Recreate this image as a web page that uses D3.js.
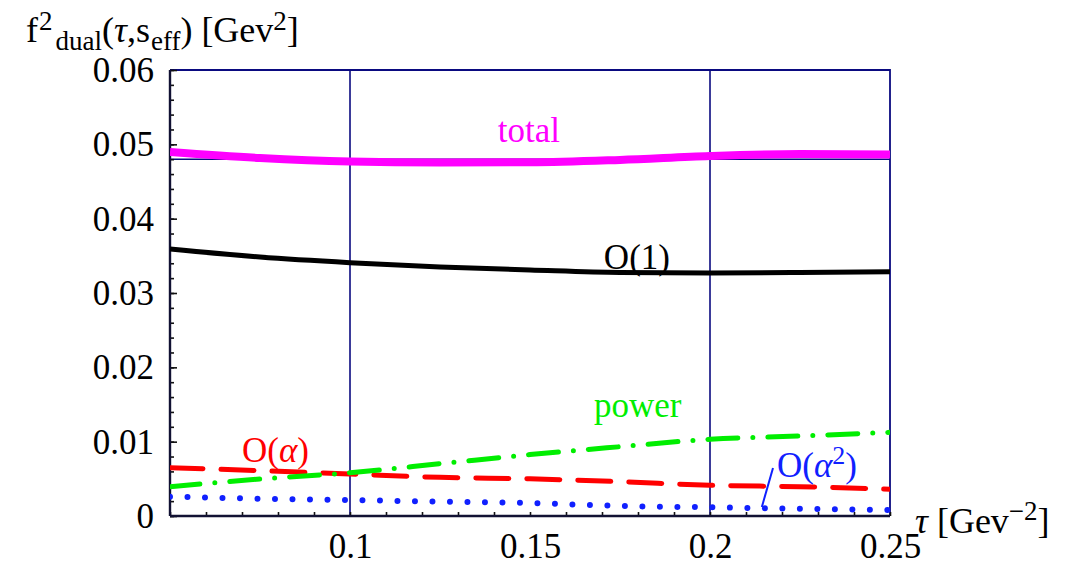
<!DOCTYPE html>
<html>
<head>
<meta charset="utf-8">
<script src="https://cdn.jsdelivr.net/npm/d3@7"></script>
<style>
  html, body { margin: 0; padding: 0; background: #fff; }
  svg { display: block; }
</style>
</head>
<body>
<svg id="chart" width="1067" height="562"></svg>
<script>
// tau grid [GeV^-2]
const tau = [0.05, 0.075, 0.1, 0.125, 0.15, 0.175, 0.2, 0.225, 0.25];

// contributions to f^2_dual(tau, s_eff) [GeV^2]
const total  = [0.04897, 0.04816, 0.04769, 0.04756, 0.04758, 0.04790, 0.04843, 0.04870, 0.04863];
const orderOne   = [0.03592, 0.03484, 0.03408, 0.03350, 0.03310, 0.03276, 0.03270, 0.03276, 0.03287];
const orderAlpha = [0.00650, 0.00610, 0.00565, 0.00520, 0.00500, 0.00462, 0.00413, 0.00394, 0.00359];
const orderAlpha2 = [0.00260, 0.00233, 0.00215, 0.00193, 0.00175, 0.00135, 0.00117, 0.00098, 0.00081];
const power  = [0.00394, 0.00498, 0.00583, 0.00703, 0.00826, 0.00932, 0.01032, 0.01076, 0.01126];

// axis ticks
const yMajorTicks = [0, 0.01, 0.02, 0.03, 0.04, 0.05, 0.06];
const yTickLabels = ["0", "0.01", "0.02", "0.03", "0.04", "0.05", "0.06"];
const xLabelTicks = [0.1, 0.15, 0.2, 0.25];
const xTickLabels = ["0.1", "0.15", "0.2", "0.25"];
const xGrid = [0.1, 0.2];
const yGrid = [0.048];

const FONT = "Liberation Serif";
const svg = d3.select("#chart");
const W = 1067, H = 562;
const m = { left: 170, right: 177, top: 70, bottom: 46 };

const x = d3.scaleLinear().domain([0.05, 0.25]).range([m.left, W - m.right]);
const y = d3.scaleLinear().domain([0, 0.06]).range([H - m.bottom, m.top]);

const navy = "#0a0a80";
const FS = 35;
const FS_TITLE = 36;
const FS_SMALL = 26;
const FS_TITLE_SMALL = 27;

svg.append("rect").attr("width", W).attr("height", H).attr("fill", "#fff");

svg.append("defs").append("clipPath").attr("id", "plotClip")
  .append("rect")
  .attr("x", x(0.05)).attr("y", y(0.06))
  .attr("width", x(0.25) - x(0.05)).attr("height", y(0) - y(0.06));

// grid lines
svg.append("g").selectAll("line").data(xGrid).join("line")
  .attr("x1", d => x(d)).attr("x2", d => x(d))
  .attr("y1", y(0.06)).attr("y2", y(0))
  .attr("stroke", navy).attr("stroke-width", 1.6);
svg.append("g").selectAll("line").data(yGrid).join("line")
  .attr("x1", x(0.05)).attr("x2", x(0.25))
  .attr("y1", d => y(d)).attr("y2", d => y(d))
  .attr("stroke", navy).attr("stroke-width", 1.6);

// frame (top and right)
svg.append("path")
  .attr("d", `M${x(0.05)},${y(0.06)}H${x(0.25)}V${y(0)}`)
  .attr("fill", "none").attr("stroke", navy).attr("stroke-width", 1.8);

// left axis: minor and major ticks pointing inward
const yMinor = d3.range(0, 0.0601, 0.002);
const yAxisMinor = d3.axisRight(y).tickValues(yMinor).tickSize(4).tickFormat("");
const gy = svg.append("g").attr("transform", `translate(${x(0.05)},0)`).call(yAxisMinor);
gy.select(".domain").remove();
gy.selectAll(".tick line").attr("stroke", "#111").attr("stroke-width", 1.6);

const yAxisMajor = d3.axisRight(y).tickValues(yMajorTicks).tickSize(7)
  .tickFormat((d, i) => yTickLabels[i]);
const gy2 = svg.append("g").attr("transform", `translate(${x(0.05)},0)`).call(yAxisMajor);
gy2.attr("font-family", null).attr("font-size", null);
gy2.select(".domain").remove();
gy2.selectAll(".tick line").attr("stroke", "#111").attr("stroke-width", 1.6);
gy2.selectAll(".tick text")
  .attr("x", -16).attr("dy", "0.33em")
  .attr("text-anchor", "end")
  .attr("font-family", FONT)
  .attr("font-size", FS).attr("fill", "#000");

// bottom axis: minor ticks every 0.01, labels at selected values
const xMinor = d3.range(0.05, 0.2501, 0.01);
const xAxisMinor = d3.axisTop(x).tickValues(xMinor).tickSize(4).tickFormat("");
const gx = svg.append("g").attr("transform", `translate(0,${y(0)})`).call(xAxisMinor);
gx.select(".domain").remove();
gx.selectAll(".tick line").attr("stroke", "#111").attr("stroke-width", 1.6);

const xAxisLabels = d3.axisBottom(x).tickValues(xLabelTicks).tickSize(0)
  .tickFormat((d, i) => xTickLabels[i]);
const gx2 = svg.append("g").attr("transform", `translate(0,${y(0)})`).call(xAxisLabels);
gx2.attr("font-family", null).attr("font-size", null);
gx2.select(".domain").remove();
gx2.selectAll(".tick text")
  .attr("y", 42).attr("dy", 0)
  .attr("font-family", FONT)
  .attr("font-size", FS).attr("fill", "#000");

// axis lines
svg.append("line")
  .attr("x1", x(0.05)).attr("x2", x(0.05)).attr("y1", y(0.06)).attr("y2", y(0))
  .attr("stroke", "#111133").attr("stroke-width", 2.4);
svg.append("line")
  .attr("x1", x(0.05)).attr("x2", x(0.25)).attr("y1", y(0)).attr("y2", y(0))
  .attr("stroke", "#111133").attr("stroke-width", 2.4);

// curves
const line = d3.line().x((d, i) => x(tau[i])).y(d => y(d)).curve(d3.curveMonotoneX);
const series = [
  { values: orderAlpha2, color: "#1020ff", width: 6, dash: "0 17.5" },
  { values: orderAlpha,  color: "#ff0000", width: 5, dash: "33 18" },
  { values: power,       color: "#00ee00", width: 5, dash: "30 15 0 15" },
  { values: orderOne,    color: "#000000", width: 5, dash: null },
  { values: total,       color: "#ff00ff", width: 8, dash: null }
];
const gc = svg.append("g").attr("clip-path", "url(#plotClip)");
series.forEach(s => {
  gc.append("path")
    .attr("d", line(s.values))
    .attr("fill", "none")
    .attr("stroke", s.color)
    .attr("stroke-width", s.width)
    .attr("stroke-linecap", s.dash ? "round" : "butt")
    .attr("stroke-dasharray", s.dash);
});

// curve annotations
const notes = [
  { t: 0.1497, v: 0.0503, color: "#ff00ff", anchor: "middle", parts: [["total"]] },
  { t: 0.1797, v: 0.0332, color: "#000000", anchor: "middle", parts: [["O(1)"]] },
  { t: 0.1799, v: 0.0133, color: "#00ee00", anchor: "middle", parts: [["power"]] },
  { t: 0.0700, v: 0.00726, color: "#ff0000", anchor: "start", parts: [["O("], ["α", "i"], [")"]] },
  { t: 0.2186, v: 0.00525, color: "#1020ff", anchor: "start", parts: [["O("], ["α", "i"], ["2", "sup"], [")"]] }
];
notes.forEach(n => {
  const t = svg.append("text")
    .attr("x", x(n.t)).attr("y", y(n.v))
    .attr("text-anchor", n.anchor)
    .attr("font-family", FONT)
    .attr("font-size", FS).attr("fill", n.color);
  let prevSup = false;
  n.parts.forEach(p => {
    const ts = t.append("tspan").text(p[0]);
    if (p[1] === "i") ts.attr("font-style", "italic");
    if (p[1] === "sup") ts.attr("font-size", FS_SMALL).attr("dy", -13);
    else if (prevSup) ts.attr("dy", 13);
    prevSup = p[1] === "sup";
  });
});

// leader line for the O(alpha^2) label
svg.append("line")
  .attr("x1", x(0.2144)).attr("y1", y(0.00121))
  .attr("x2", x(0.2175)).attr("y2", y(0.00646))
  .attr("stroke", "#1020ff").attr("stroke-width", 2);

// y-axis title: f^2_dual(tau, s_eff) [GeV^2]
const yt = svg.append("text").attr("x", 26).attr("y", 42)
  .attr("font-family", FONT)
  .attr("font-size", FS_TITLE).attr("fill", "#000");
yt.append("tspan").text("f");
yt.append("tspan").text("2").attr("font-size", FS_TITLE_SMALL).attr("dx", 1).attr("dy", -12);
yt.append("tspan").text("dual").attr("font-size", FS_TITLE_SMALL).attr("dx", 3).attr("dy", 20);
yt.append("tspan").text("(").attr("dy", -8);
yt.append("tspan").text("τ").attr("font-style", "italic");
yt.append("tspan").text(",s");
yt.append("tspan").text("eff").attr("font-size", FS_TITLE_SMALL).attr("dx", 1).attr("dy", 8);
yt.append("tspan").text(") [Gev").attr("dy", -8);
yt.append("tspan").text("2").attr("font-size", FS_TITLE_SMALL).attr("dy", -12);
yt.append("tspan").text("]").attr("dy", 12);

// x-axis title: tau [GeV^-2]
const xt = svg.append("text").attr("x", 915).attr("y", 533)
  .attr("font-family", FONT)
  .attr("font-size", FS_TITLE).attr("fill", "#000");
xt.append("tspan").text("τ").attr("font-style", "italic");
xt.append("tspan").text(" [Gev");
xt.append("tspan").text("−2").attr("font-size", FS_TITLE_SMALL).attr("dy", -13);
xt.append("tspan").text("]").attr("dy", 13);
</script>
</body>
</html>
